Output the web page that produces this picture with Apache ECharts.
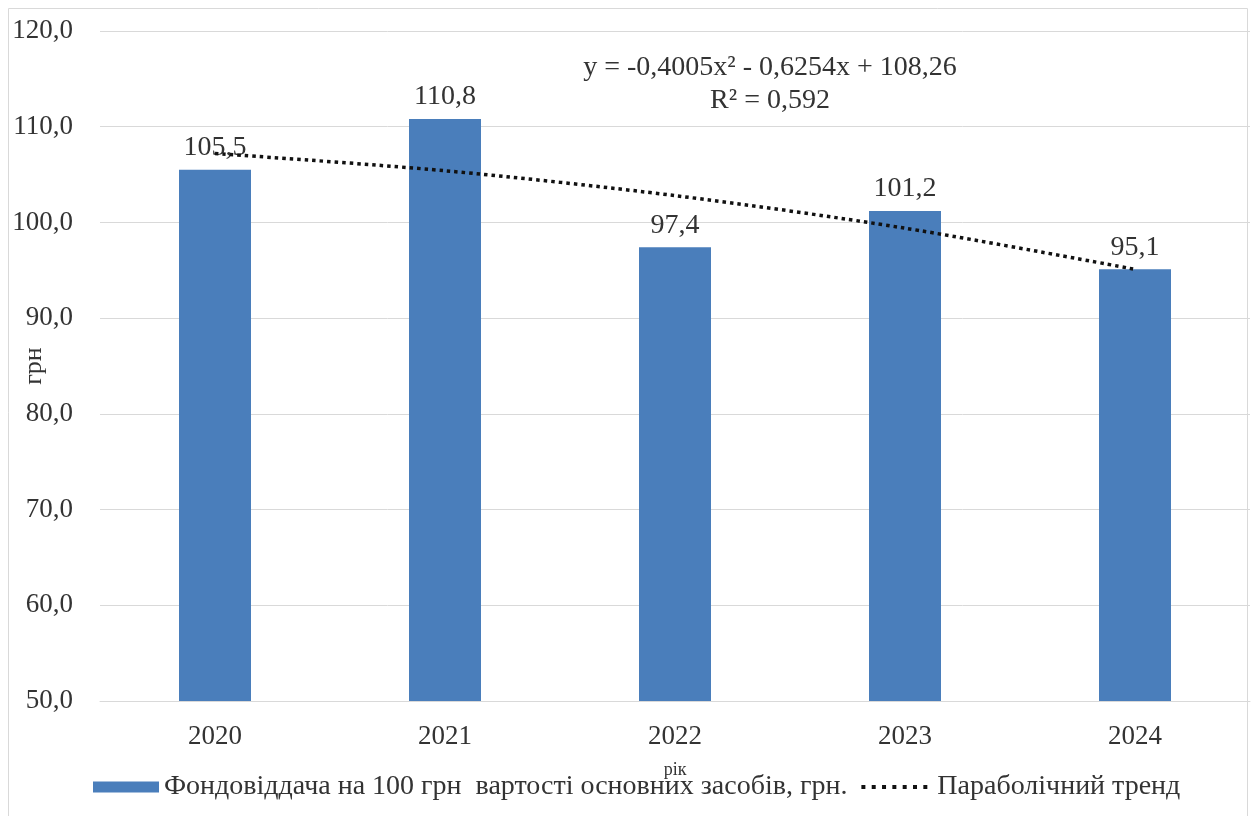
<!DOCTYPE html>
<html>
<head>
<meta charset="utf-8">
<script src="https://cdn.jsdelivr.net/npm/echarts@6/dist/echarts.min.js"></script>
<style>
  html, body { margin: 0; padding: 0; background: #fff; }
  #chart { width: 1256px; height: 816px; }
</style>
</head>
<body>
<div id="chart"></div>
<script>
// роки
const years = ['2020', '2021', '2022', '2023', '2024']
// фондовіддача на 100 грн
const values = [105.5, 110.8, 97.4, 101.2, 95.1]
// параболічний тренд (значення з графіка)
const trend = [107.2, 105.4, 102.8, 99.4, 95.1]
const yMin = 50
const yMax = 120
const yStep = 10
const barName = 'Фондовіддача на 100 грн  вартості основних засобів, грн.'
const trendName = 'Параболічний тренд'
const eqLine1 = 'y = -0,4005x² - 0,6254x + 108,26'
const eqLine2 = 'R² = 0,592'

const font = 'Liberation Serif'
const textColor = '#333333'
const fmt = v => Number(v).toFixed(1).replace('.', ',')

// іконка легенди: пунктир з крапок у рамці 66x11
function dottedIcon() {
  let p = 'path://M0,0h0.01v0.01h-0.01z M66,11h0.01v0.01h-0.01z'
  for (let i = 0; i < 7; i++) {
    const x = (i * 62 / 6).toFixed(2)
    p += ` M${x},3.5h4v4h-4z`
  }
  return p
}

const chart = echarts.init(document.getElementById('chart'))
chart.setOption({
  animation: false,
  textStyle: { fontFamily: font },
  grid: { left: 100, right: 6, top: 31, bottom: 115, containLabel: false, outerBoundsMode: 'none' },
  graphic: [
    {
      type: 'rect',
      shape: { x: 8.5, y: 8.5, width: 1239, height: 830 },
      style: { fill: 'none', stroke: '#d9d9d9', lineWidth: 1 },
      silent: true,
      z: -1,
    },
    {
      type: 'text',
      x: 770,
      y: 54,
      style: { text: eqLine1, font: '28px "Liberation Serif"', fill: textColor, textAlign: 'center' },
    },
    {
      type: 'text',
      x: 770,
      y: 87,
      style: { text: eqLine2, font: '28px "Liberation Serif"', fill: textColor, textAlign: 'center' },
    },
  ],
  legend: {
    left: 88,
    top: 768,
    itemWidth: 66,
    itemHeight: 11,
    itemGap: 14,
    textStyle: { fontFamily: font, fontSize: 28, color: textColor },
    data: [
      { name: barName, icon: 'rect' },
      { name: trendName, icon: dottedIcon(), textStyle: { padding: [0, 0, 0, 5] } },
    ],
  },
  xAxis: {
    type: 'category',
    data: years,
    name: 'рік',
    nameLocation: 'middle',
    nameGap: 60,
    nameTextStyle: { fontFamily: font, fontSize: 18, color: textColor },
    axisLine: { lineStyle: { color: '#d9d9d9', width: 1 } },
    axisTick: { show: false },
    axisLabel: { fontFamily: font, fontSize: 27, color: textColor, margin: 22 },
  },
  yAxis: {
    type: 'value',
    min: yMin,
    max: yMax,
    interval: yStep,
    name: 'грн',
    nameLocation: 'middle',
    nameGap: 53,
    nameRotate: 90,
    nameMoveOverlap: false,
    nameTextStyle: { fontFamily: font, fontSize: 26, color: textColor },
    axisLine: { show: false },
    axisTick: { show: false },
    splitLine: { lineStyle: { color: '#d9d9d9', width: 1 } },
    axisLabel: { fontFamily: font, fontSize: 27, color: textColor, margin: 27, formatter: fmt },
  },
  series: [
    {
      name: barName,
      type: 'bar',
      data: values,
      barWidth: 72,
      itemStyle: { color: '#4a7ebb' },
      label: {
        show: true,
        position: 'top',
        distance: 8,
        fontFamily: font,
        fontSize: 28,
        color: textColor,
        formatter: p => fmt(p.value),
      },
    },
    {
      name: trendName,
      type: 'line',
      data: trend,
      smooth: 0.3,
      symbol: 'none',
      z: 3,
      lineStyle: { color: '#111', width: 3.5, type: [3.5, 4] },
      itemStyle: { color: '#111' },
    },
  ],
})
</script>
</body>
</html>
